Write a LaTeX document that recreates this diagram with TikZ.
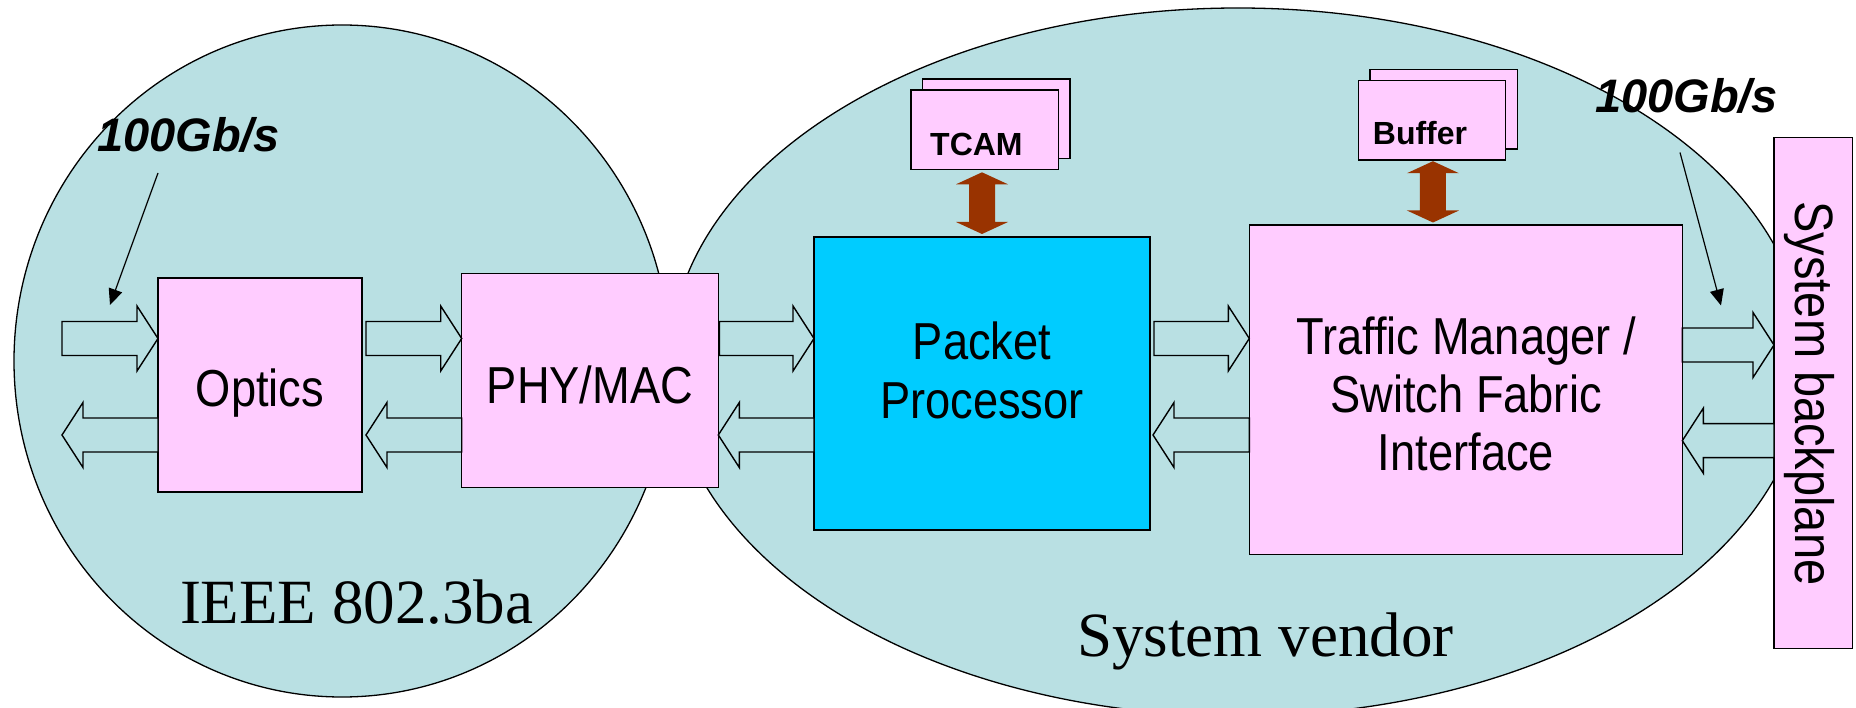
\documentclass[tikz,border=0pt]{standalone}
\usepackage{fontspec}
\setmainfont{Liberation Serif}
\newfontfamily\narrowsans[FakeStretch=0.87]{Liberation Sans}
\newfontfamily\arialfont{Liberation Sans}
\usetikzlibrary{arrows.meta,calc}
\definecolor{tealbg}{HTML}{B9E0E3}
\definecolor{pinkbox}{HTML}{FFCCFF}
\definecolor{cyanbox}{HTML}{00CCFF}
\definecolor{brownarr}{HTML}{993300}
\tikzset{
  region/.style={draw=black, line width=1.3pt, fill=tealbg},
  boxbase/.style={draw=black, line width=1.5pt, inner sep=0pt, outer sep=0pt, anchor=north west},
  pbox/.style={boxbase, fill=pinkbox},
  cbox/.style={boxbase, fill=cyanbox},
  barrow/.style={draw=black, line width=1.4pt, fill=tealbg, line join=miter},
  thinarr/.style={draw=black, line width=1.2pt, -{Triangle[length=16pt,width=14pt]}},
  lab/.style={font=\narrowsans\fontsize{52}{58}\selectfont, inner sep=0pt, anchor=base},
  smallb/.style={font=\arialfont\bfseries\fontsize{32}{36}\selectfont, inner sep=0pt, anchor=base west},
  rate/.style={font=\arialfont\bfseries\itshape\fontsize{47}{52}\selectfont, inner sep=0pt, anchor=base west},
  serifl/.style={font=\fontsize{63}{70}\selectfont, inner sep=0pt, anchor=base}
}
\newcommand\blockarr[2]{%
  \draw[barrow] let \p1=#1, \p2=#2, \n1={21*sign(\x2-\x1)} in
   (\x1,{\y1+17pt}) -- ({\x2-(\n1)*1pt},{\y1+17pt}) -- ({\x2-(\n1)*1pt},{\y1+32.5pt})
   -- (\x2,\y1) -- ({\x2-(\n1)*1pt},{\y1-32.5pt}) -- ({\x2-(\n1)*1pt},{\y1-17pt})
   -- (\x1,{\y1-17pt}) -- cycle;}
\newcommand\dblarr[2]{%
  \fill[brownarr] let \p1=#1, \p2=#2 in
   (\x1,\y1) -- ({\x1+26pt},{\y1-12pt}) -- ({\x1+13pt},{\y1-12pt}) -- ({\x1+13pt},{\y2+12pt})
   -- ({\x1+26pt},{\y2+12pt}) -- (\x1,\y2) -- ({\x1-26pt},{\y2+12pt}) -- ({\x1-13pt},{\y2+12pt})
   -- ({\x1-13pt},{\y1-12pt}) -- ({\x1-26pt},{\y1-12pt}) -- cycle;}
\begin{document}
\begin{tikzpicture}[x=1pt,y=-1pt]
\useasboundingbox (0,0) rectangle (1856,708);
\clip (0,0) rectangle (1856,708);
\fill[white] (0,0) rectangle (1856,708);

% regions
\draw[region] (342,361) ellipse [x radius=328, y radius=336];
\draw[region] (1238,362) ellipse [x radius=568, y radius=354];

% boxes
\node[pbox, minimum width=204, minimum height=214] (optics) at (158,278) {};
\node[pbox, minimum width=256.6, minimum height=214] (phy) at (461.7,273.3) {};
\node[cbox, minimum width=336, minimum height=293] (pp) at (814,237) {};
\node[pbox, minimum width=433, minimum height=329.3] (tm) at (1249.3,225) {};
\node[pbox, minimum width=78.7, minimum height=511] (bp) at (1774,137.3) {};
\node[pbox, minimum width=147.3, minimum height=79.3] (tcamb) at (922.7,79) {};
\node[pbox, minimum width=147.3, minimum height=79.3] (tcamf) at (911,90) {};
\node[pbox, minimum width=147.3, minimum height=79.5] (bufb) at (1370,69.3) {};
\node[pbox, minimum width=147.3, minimum height=79.5] (buff) at (1358.3,80.7) {};

% texts
\node[lab] (optt) at (260,406.7) {Optics};
\node[lab] (phyt) at (590,404) {PHY/MAC};
\node[lab] (ppt1) at (982,360) {Packet};
\node[lab] (ppt2) at (982,418.3) {Processor};
\node[lab] (tmt1) at (1466,355) {Traffic Manager /};
\node[lab] (tmt2) at (1466,412.5) {Switch Fabric};
\node[lab] (tmt3) at (1466,470.7) {Interface};
\node[lab, rotate=-90, font=\narrowsans\fontsize{54}{58}\selectfont] (bpt) at (1795,393.5) {System backplane};
\node[smallb] (tcamt) at (930,155.7) {TCAM};
\node[smallb] (buft) at (1372.7,145) {Buffer};
\node[rate] (rate1) at (97,152) {100Gb/s};
\node[rate] (rate2) at (1595,112.7) {100Gb/s};
\node[serifl] (ieee) at (356.7,623.3) {IEEE 802.3ba};
\node[serifl] (vendor) at (1265.5,656) {System vendor};

% block arrows
\coordinate (r1) at (0,338.5);
\coordinate (r2) at (0,435);
\coordinate (r3) at (0,345);
\coordinate (r4) at (0,440.7);
\coordinate (inL) at (62,338.5);
\coordinate (outL) at (62,435);
\blockarr{(inL)}{(optics.west |- r1)}
\blockarr{(optics.west |- r2)}{(outL)}
\blockarr{($(optics.east |- r1)+(4,0)$)}{(phy.west |- r1)}
\blockarr{(phy.west |- r2)}{($(optics.east |- r2)+(4,0)$)}
\blockarr{($(phy.east |- r1)+(1,0)$)}{(pp.west |- r1)}
\blockarr{(pp.west |- r2)}{(phy.east |- r2)}
\blockarr{($(pp.east |- r1)+(4,0)$)}{(tm.west |- r1)}
\blockarr{(tm.west |- r2)}{($(pp.east |- r2)+(3,0)$)}
\blockarr{(tm.east |- r3)}{(bp.west |- r3)}
\blockarr{(bp.west |- r4)}{(tm.east |- r4)}

% memory links
\coordinate (tcamA) at ($(pp.north |- tcamf.south)+(0,3)$);
\coordinate (tcamB) at ($(pp.north)+(0,-3)$);
\dblarr{(tcamA)}{(tcamB)}
\coordinate (bufA) at ($(buff.south)+(1,1)$);
\coordinate (bufB) at ($(buff.south |- tm.north)+(1,-2.5)$);
\dblarr{(bufA)}{(bufB)}

% rate pointers
\coordinate (t1s) at (158,173);
\coordinate (t1e) at (110,305);
\coordinate (t2s) at (1680,152.5);
\coordinate (t2e) at (1721,305.5);
\draw[thinarr] (t1s) -- (t1e);
\draw[thinarr] (t2s) -- (t2e);
\end{tikzpicture}
\end{document}
